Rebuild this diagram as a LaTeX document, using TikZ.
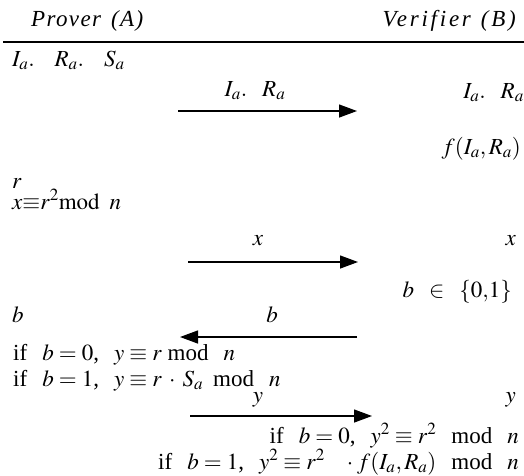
\documentclass[tikz,border=0pt]{standalone}
\usepackage{mathptmx}
\usepackage{fontspec}
\setmainfont{Liberation Serif}
\usetikzlibrary{arrows.meta}
\newcommand{\gp}{\hspace{15pt}}
\newcommand{\sgp}{\hspace{10pt}}
\tikzset{
  lt/.style={anchor=base west, inner sep=0pt},
  rt/.style={anchor=base east, inner sep=0pt},
  lab/.style={anchor=base, inner sep=0pt},
  head/.style={inner sep=0pt, font=\fontsize{23}{26}\selectfont\itshape},
  msg/.style={line width=1.3pt, -{Triangle[length=18pt,width=13pt]}},
}
\begin{document}
\begin{tikzpicture}[x=1pt,y=-1pt,font=\fontsize{23}{26}\selectfont]
\useasboundingbox (0,0) rectangle (524,475);
\node[head, anchor=base west] (pa) at (31,26) {\addfontfeature{LetterSpace=6}Prover\sgp(A)};
\node[head, anchor=base east] (vb) at (516,26) {\addfontfeature{LetterSpace=12}Verifier\sgp(B)};
\coordinate (l0) at (3,42);
\coordinate (l1) at (524,42);
\draw[line width=1.4pt] (l0) -- (l1);
\node[lt] (irs) at (12,66) {$I_a.$\hspace{20pt}$R_a.$\hspace{20pt}$S_a$};
\coordinate (a1s) at (178,111);
\coordinate (a1e) at (357,111);
\draw[msg] (a1s) -- (a1e);
\node[lab] (l1t) at (255,96) {$I_a.$\gp$R_a$};
\node[rt] (rir) at (524,98) {$I_a.$\gp$R_a$};
\node[rt] (rf) at (521,154) {$f(I_a, R_a)$};
\node[lt] (lr) at (12,188) {$r$};
\node[lt] (lx) at (12,209) {$x{\equiv}r^2\mathrm{mod}\sgp n$};
\node[lab] (l2t) at (258,245) {$x$};
\node[rt] (rx) at (516,245) {$x$};
\coordinate (a2s) at (188,262);
\coordinate (a2e) at (358,262);
\draw[msg] (a2s) -- (a2e);
\node[rt] (rb) at (512,297) {$b$\gp$\in$\gp$\{0{,}1\}$};
\node[lt] (lb) at (12,322) {$b$};
\node[lab] (l3t) at (272,322) {$b$};
\coordinate (a3s) at (357,337);
\coordinate (a3e) at (180,337);
\draw[msg] (a3s) -- (a3e);
\node[lt] (lc0) at (13,360) {if\gp$b=0$,\gp$y\equiv r$ mod\gp$n$};
\node[lt] (lc1) at (13,386) {if\gp$b=1$,\gp$y\equiv r\hspace{4pt}\cdot\hspace{4pt}S_a$\sgp mod\gp$n$};
\node[lab] (l4t) at (258,402) {$y$};
\node[rt] (ry) at (516,402) {$y$};
\coordinate (a4s) at (190,416);
\coordinate (a4e) at (372,416);
\draw[msg] (a4s) -- (a4e);
\node[rt] (rc0) at (519,443) {if\gp$b=0$,\gp$y^2\equiv r^2$\gp mod\gp$n$};
\node[rt] (rc1) at (519,469) {if\gp$b=1$,\gp$y^2\equiv r^2$\hspace{22pt}${\cdot}\hspace{4pt}f(I_a, R_a)$\gp mod\gp$n$};
\end{tikzpicture}
\end{document}
